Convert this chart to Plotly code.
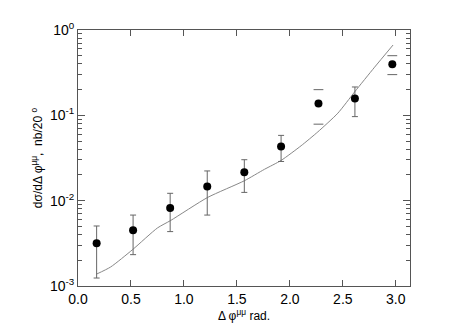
import plotly.graph_objects as go

# measured points
dphi = [0.176, 0.52, 0.87, 1.22, 1.57, 1.917, 2.27, 2.614, 2.967]
xsec = [3.18e-3, 4.49e-3, 8.23e-3, 1.47e-2, 2.15e-2, 4.3e-2, 0.138, 0.158, 0.398]
err_hi = [5.05e-3, 6.78e-3, 1.22e-2, 2.23e-2, 3.02e-2, 5.82e-2, 0.2, 0.215, 0.5]
err_lo = [1.24e-3, 2.33e-3, 4.34e-3, 6.78e-3, 1.25e-2, 2.88e-2, 0.0788, 0.0966, 0.3]
# points whose error bar only shows the end caps
cap_only = [6, 8]

# theory curve
curve_x = [0.176, 0.308, 0.517, 0.75, 0.876, 1.223, 1.57, 1.76, 1.917, 2.106,
           2.264, 2.453, 2.611, 2.8, 2.974]
curve_y = [1.38e-3, 1.67e-3, 2.68e-3, 4.79e-3, 5.87e-3, 1.09e-2, 1.71e-2, 2.33e-2,
           2.96e-2, 4.4e-2, 6.4e-2, 0.106, 0.188, 0.367, 0.667]

ytick_vals = [1e-3, 1e-2, 1e-1, 1]
ytick_text = ["10<sup>-3</sup>", "10<sup>-2</sup>", "10<sup>-1</sup>", "10<sup>0</sup>"]
minor_vals = [m * 10.0 ** e for e in (-3, -2, -1) for m in range(2, 10)]

axcol = "#555555"
fig = go.Figure()

fig.add_trace(go.Scatter(x=curve_x, y=curve_y, mode="lines",
                         line=dict(color="#888888", width=1, shape="spline", smoothing=0.6),
                         showlegend=False))

bar_idx = [i for i in range(len(dphi)) if i not in cap_only]
fig.add_trace(go.Scatter(
    x=[dphi[i] for i in bar_idx], y=[xsec[i] for i in bar_idx], mode="markers",
    marker=dict(color="black", size=8),
    error_y=dict(type="data", symmetric=False,
                 array=[err_hi[i] - xsec[i] for i in bar_idx],
                 arrayminus=[xsec[i] - err_lo[i] for i in bar_idx],
                 color="#666666", thickness=1, width=3),
    showlegend=False))

fig.add_trace(go.Scatter(
    x=[dphi[i] for i in cap_only], y=[xsec[i] for i in cap_only], mode="markers",
    marker=dict(color="black", size=8), showlegend=False))
fig.add_trace(go.Scatter(
    x=[dphi[i] for i in cap_only] * 2,
    y=[err_hi[i] for i in cap_only] + [err_lo[i] for i in cap_only],
    mode="markers",
    marker=dict(symbol="line-ew", size=7, line=dict(color="#666666", width=1)),
    showlegend=False))

# invisible traces so the minor-tick axes get drawn
for ax in ("y2", "y3"):
    fig.add_trace(go.Scatter(x=[dphi[0]], y=[xsec[0]], yaxis=ax, mode="markers",
                             marker=dict(opacity=0), hoverinfo="skip", showlegend=False))

minor_axis = dict(type="log", range=[-3, 0], overlaying="y", anchor="x",
                  tickmode="array", tickvals=minor_vals, showticklabels=False,
                  ticks="inside", ticklen=4, tickwidth=1.2, tickcolor=axcol,
                  showline=False, showgrid=False, zeroline=False)

fig.update_layout(
    width=463, height=327,
    margin=dict(l=70, r=61, t=19, b=49),
    plot_bgcolor="white", paper_bgcolor="white",
    font=dict(family="Liberation Sans, Arial", size=14, color="black"),
    xaxis=dict(range=[0, 3.134], tickvals=[0, 0.5, 1, 1.5, 2, 2.5, 3],
               ticktext=["0.0", "0.5", "1.0", "1.5", "2.0", "2.5", "3.0"],
               ticks="inside", ticklen=6, tickwidth=1.2, tickcolor=axcol,
               showline=True, linecolor=axcol, linewidth=1, mirror="ticks",
               showgrid=False, zeroline=False,
               title=dict(text="Δ φ<sup>μμ</sup> rad.", font=dict(size=12), standoff=4)),
    yaxis=dict(type="log", range=[-3, 0], tickvals=ytick_vals, ticktext=ytick_text,
               ticks="inside", ticklen=7, tickwidth=1.2, tickcolor=axcol,
               showline=True, linecolor=axcol, linewidth=1, mirror="ticks",
               showgrid=False, zeroline=False,
               title=dict(text="dσ/dΔ φ<sup>μμ</sup>,  nb/20 <sup>o</sup>",
                          font=dict(size=12), standoff=4)),
    yaxis2=dict(minor_axis, side="left"),
    yaxis3=dict(minor_axis, side="right"),
)

fig.write_html("out.html")
